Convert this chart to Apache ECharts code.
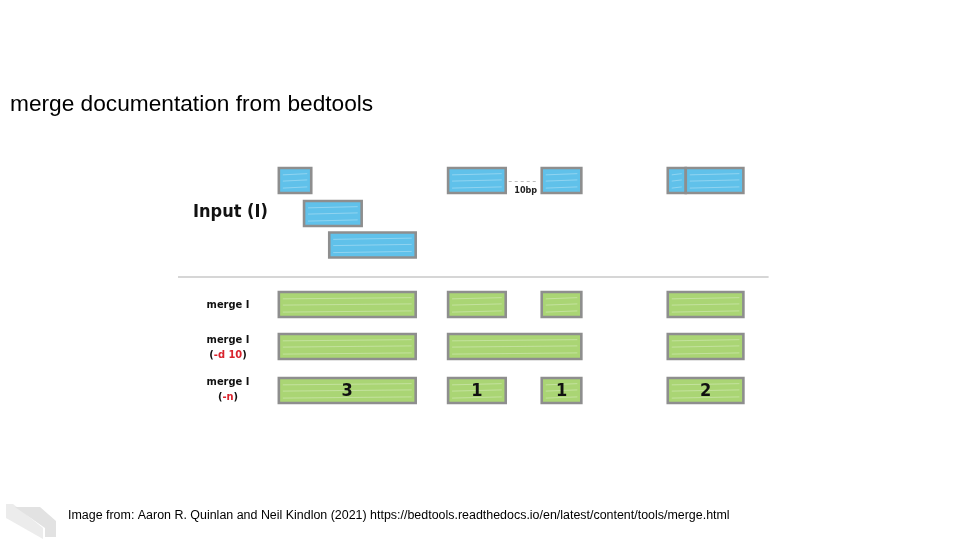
<!DOCTYPE html>
<html>
<head>
<meta charset="utf-8">
<script src="https://cdn.jsdelivr.net/npm/echarts@6/dist/echarts.min.js"></script>
<style>
  html, body { margin: 0; padding: 0; background: #fff; }
  #main { width: 960px; height: 540px; }
</style>
</head>
<body>
<div id="main"></div>
<script>
// interval positions in bp, row = which input lane
var inputStart = [0, 47, 73, 108, 113, 7, 14];
var inputEnd = [9, 63, 84, 113, 129, 23, 38];
var inputRow = [0, 0, 0, 0, 0, 1, 2];

// merge -i I
var mergeStart = [0, 47, 73, 108];
var mergeEnd = [38, 63, 84, 129];

// merge -i I -d 10
var mergeD10Start = [0, 47, 108];
var mergeD10End = [38, 84, 129];

// merge -i I -n
var mergeCounts = [3, 1, 1, 2];

// the 10bp gap shown between two input intervals
var gapStart = [63];
var gapEnd = [73];
var gapLabel = ['10bp'];

var titleText = 'merge documentation from bedtools';
var footerText = 'Image from: Aaron R. Quinlan and Neil Kindlon (2021) https://bedtools.readthedocs.io/en/latest/content/tools/merge.html';

// ---- layout (lane centres on the inverted y axis, 1 unit = 10px) ----
var inputLaneY = [3.05, 6.35, 9.5];
var mergeLaneY = 15.45;
var mergeD10LaneY = 19.65;
var mergeNLaneY = 24.05;
var separatorY = 12.7;
var BOX_H = 25;

var blue = '#60c1ea';
var green = '#aad574';
var edge = '#8e8e8e';
var handFont = '"DejaVu Sans Condensed", sans-serif';

var chart = echarts.init(document.getElementById('main'));

function boxItem(fill, labelKey) {
    return function(params, api) {
        var p0 = api.coord([api.value(0), api.value(2)]);
        var p1 = api.coord([api.value(1), api.value(2)]);
        var x = p0[0], w = p1[0] - p0[0];
        var y = p0[1] - BOX_H / 2;
        var kids = [{
            type: 'rect',
            shape: { x: x, y: y, width: w, height: BOX_H },
            style: { fill: fill, stroke: edge, lineWidth: 2.6 }
        }];
        // a few pale streaks for the sketched look
        var streaks = [0.25, 0.5, 0.78];
        for (var i = 0; i < streaks.length; i++) {
            kids.push({
                type: 'line',
                shape: {
                    x1: x + 4, y1: y + BOX_H * streaks[i] + 0.6,
                    x2: x + w - 4, y2: y + BOX_H * streaks[i] - 0.6
                },
                style: { stroke: 'rgba(255,255,255,0.3)', lineWidth: 1 }
            });
        }
        if (labelKey) {
            kids.push({
                type: 'text',
                style: {
                    text: String(api.value(3)),
                    x: x + w / 2, y: y + BOX_H / 2 + 1,
                    align: 'center', verticalAlign: 'middle',
                    font: 'bold 18px ' + handFont,
                    fill: '#111'
                }
            });
        }
        return { type: 'group', children: kids };
    };
}

var inputData = inputStart.map(function(s, i) {
    return [s, inputEnd[i], inputLaneY[inputRow[i]]];
});
var mergeData = mergeStart.map(function(s, i) {
    return [s, mergeEnd[i], mergeLaneY];
});
var mergeD10Data = mergeD10Start.map(function(s, i) {
    return [s, mergeD10End[i], mergeD10LaneY];
});
var mergeNData = mergeStart.map(function(s, i) {
    return [s, mergeEnd[i], mergeNLaneY, mergeCounts[i]];
});
var gapData = gapStart.map(function(s, i) {
    return [s, gapEnd[i], inputLaneY[0], gapLabel[i]];
});

var richLbl = {
    b: { fill: '#111', font: 'bold 11px ' + handFont },
    r: { fill: '#d9232d', font: 'bold 11px ' + handFont }
};

function sideLabel(text, y) {
    return {
        type: 'text', x: 228, y: y,
        style: {
            text: text,
            align: 'center',
            verticalAlign: 'middle',
            lineHeight: 15,
            rich: richLbl
        }
    };
}

var option = {
    animation: false,
    backgroundColor: '#fff',
    grid: { left: 178, right: 191.4, top: 150, height: 270 },
    xAxis: { type: 'value', min: -28, max: 136, show: false },
    yAxis: { type: 'value', min: 0, max: 27, inverse: true, show: false },
    graphic: [
        {
            type: 'text', left: 10, top: 93,
            style: { text: titleText, font: '22.7px "Liberation Sans", Arial', fill: '#000' }
        },
        {
            type: 'text', left: 68, top: 510,
            style: { text: footerText, font: '12.45px "Liberation Sans", Arial', fill: '#000' }
        },
        {
            type: 'text', left: 193, top: 203,
            style: { text: 'Input (I)', font: 'bold 18px ' + handFont, fill: '#111' }
        },
        sideLabel('{b|merge I}', 305),
        sideLabel('{b|merge I}\n{b|(}{r|-d 10}{b|)}', 348),
        sideLabel('{b|merge I}\n{b|(}{r|-n}{b|)}', 390),
        // slide logo, bottom left
        {
            type: 'polygon',
            shape: { points: [[6, 504], [13, 504], [43, 528], [43, 539], [6, 518]] },
            style: { fill: '#ececec' }
        },
        {
            type: 'polygon',
            shape: { points: [[15, 507], [40, 507], [56, 521], [56, 537], [45, 537], [45, 528]] },
            style: { fill: '#e2e2e2' }
        }
    ],
    series: [
        {
            type: 'custom',
            name: 'separator',
            data: [],
            renderItem: function() {},
            markLine: {
                silent: true,
                symbol: 'none',
                label: { show: false },
                lineStyle: { color: '#c8c8c8', width: 1.5, type: 'solid' },
                data: [{ yAxis: separatorY }]
            }
        },
        {
            type: 'custom',
            name: 'gap',
            data: gapData,
            renderItem: function(params, api) {
                var p0 = api.coord([api.value(0), api.value(2)]);
                var p1 = api.coord([api.value(1), api.value(2)]);
                return {
                    type: 'group',
                    children: [
                        {
                            type: 'line',
                            shape: { x1: p0[0] + 3, y1: p0[1] + 1, x2: p1[0] - 3, y2: p1[1] + 1 },
                            style: { stroke: '#bdbdbd', lineWidth: 1, lineDash: [3, 3] }
                        },
                        {
                            type: 'text',
                            style: {
                                text: api.value(3),
                                x: (p0[0] + p1[0]) / 2 + 2, y: p0[1] + 10,
                                align: 'center', verticalAlign: 'middle',
                                font: 'bold 9px ' + handFont,
                                fill: '#222'
                            }
                        }
                    ]
                };
            }
        },
        { type: 'custom', name: 'input', data: inputData, renderItem: boxItem(blue) },
        { type: 'custom', name: 'merge', data: mergeData, renderItem: boxItem(green) },
        { type: 'custom', name: 'merge -d 10', data: mergeD10Data, renderItem: boxItem(green) },
        { type: 'custom', name: 'merge -n', data: mergeNData, renderItem: boxItem(green, true) }
    ]
};

chart.setOption(option);
</script>
</body>
</html>
